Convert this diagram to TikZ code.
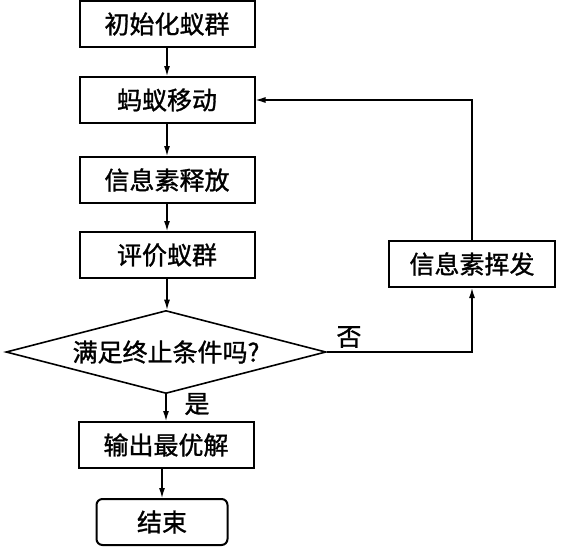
\documentclass[tikz,border=0pt]{standalone}
\usepackage{fontspec}
\usepackage{tikz}
\usetikzlibrary{shapes.geometric,arrows.meta}
\newfontfamily\cjk{Noto Sans CJK SC}[FakeBold=1.2]

\begin{document}
\begin{tikzpicture}[
    x=0.5pt, y=-0.5pt,
    every node/.style={font=\cjk\fontsize{12.5}{15}\selectfont, inner sep=0pt},
    stepbox/.style={rectangle, draw, line width=1pt, minimum width=87.5pt, minimum height=23pt},
    endbox/.style={stepbox, rounded corners=3pt, minimum width=65.5pt},
    decision/.style={diamond, draw, aspect=3.9, line width=0.8pt, minimum width=160pt, minimum height=41.5pt},
    flow/.style={draw, line width=0.6pt, -{Latex[length=5pt,width=3pt]}}
]
\useasboundingbox (0,0) rectangle (566,547);

% main column
    \node[stepbox] (init)    at (167,24)  {初始化蚁群};
    \node[stepbox] (move)    at (167,100) {蚂蚁移动};
    \node[stepbox] (release) at (167,180) {信息素释放};
    \node[stepbox] (eval)    at (167,255) {评价蚁群};
    \node[decision] (cond)   at (166,352) {满足终止条件吗?};
    \node[stepbox] (output)  at (166,445) {输出最优解};
    \node[endbox] (stop)     at (162,522) {结束};

% side branch
    \node[stepbox, minimum width=83pt] (evap) at (472,264) {信息素挥发};

    \draw[flow] (init) -- (move);
    \draw[flow] (move) -- (release);
    \draw[flow] (release) -- (eval);
    \draw[flow] (eval.south) -- (eval.south |- cond.north);
    \draw[flow] (cond.south) -- (output.north -| cond.south);
    \draw[flow] (output.south -| stop.north) -- (stop.north);
    \draw[flow] (cond.east) -| (evap.south);
    \draw[flow] (evap.north) |- (move.east);

% labels
    \node (no)  at (349,337) {否};
    \node (yes) at (197,404) {是};
\end{tikzpicture}
\end{document}
